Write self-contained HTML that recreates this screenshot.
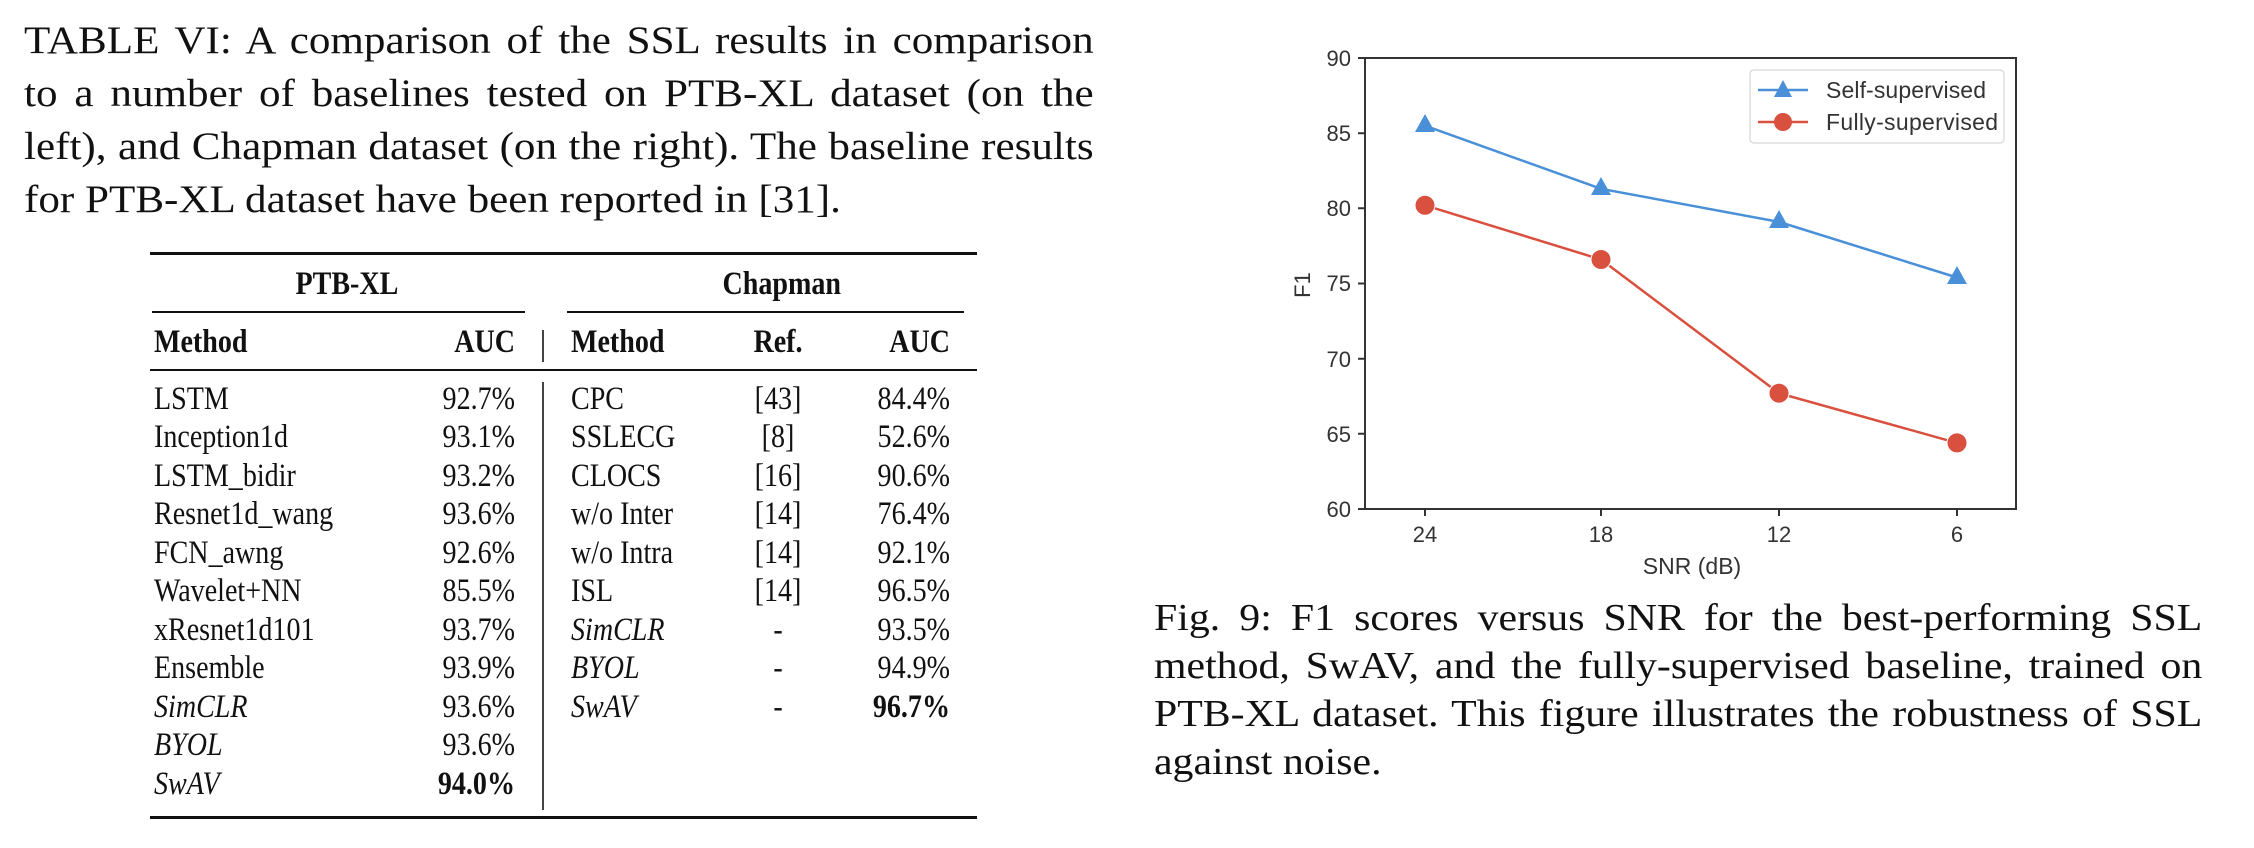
<!DOCTYPE html>
<html><head><meta charset="utf-8"><style>
body{margin:0;width:2254px;height:848px;background:#fff;position:relative;overflow:hidden;font-family:"Liberation Serif",serif;color:#111}
.cap{position:absolute;font-size:39px;line-height:53px;transform-origin:0 0}
.ln{text-align:justify;text-align-last:justify;white-space:nowrap;height:53px}
.ln.last{text-align-last:left}
.t{position:absolute;font-size:33px;white-space:nowrap;line-height:1;transform:scaleX(0.85);transform-origin:0 0}
.r{text-align:right;transform-origin:100% 0}
.c{text-align:center;transform-origin:50% 0}
.rule{position:absolute;background:#111}
</style></head><body>
<div class="cap" style="left:24px;top:14px;width:968px;transform:scaleX(1.105)">
<div class="ln">TABLE VI: A comparison of the SSL results in comparison</div>
<div class="ln">to a number of baselines tested on PTB-XL dataset (on the</div>
<div class="ln">left), and Chapman dataset (on the right). The baseline results</div>
<div class="ln last">for PTB-XL dataset have been reported in [31].</div>
</div>

<div class="rule" style="left:150px;top:252px;width:827px;height:3px"></div>
<div class="rule" style="left:150px;top:369px;width:827px;height:2px"></div>
<div class="rule" style="left:150px;top:816px;width:827px;height:3px"></div>
<div class="rule" style="left:152px;top:311px;width:373px;height:1.5px"></div>
<div class="rule" style="left:567px;top:311px;width:397px;height:1.5px"></div>
<div class="rule" style="left:542px;top:330px;width:1.5px;height:32px;background:#444"></div>
<div class="rule" style="left:542px;top:382px;width:1.5px;height:428px;background:#444"></div>

<div class="t c" style="left:288px;width:100px;top:268px;font-weight:bold">PTB-XL</div>
<div class="t c" style="left:715px;width:100px;top:268px;font-weight:bold">Chapman</div>
<div class="t" style="left:154px;top:326px;font-weight:bold">Method</div>
<div class="t r" style="left:415px;width:100px;top:326px;font-weight:bold">AUC</div>
<div class="t" style="left:571px;top:326px;font-weight:bold">Method</div>
<div class="t c" style="left:728px;width:100px;top:326px;font-weight:bold">Ref.</div>
<div class="t r" style="left:850px;width:100px;top:326px;font-weight:bold">AUC</div>

<svg width="2254" height="848" style="position:absolute;left:0;top:0" font-family="Liberation Sans, sans-serif">
<g stroke="#333" stroke-width="2" fill="none">
<rect x="1365" y="58" width="651" height="451"/>
<path d="M1358 58h7M1358 133.2h7M1358 208.3h7M1358 283.5h7M1358 358.7h7M1358 433.8h7M1358 509h7M1425 509v7M1601 509v7M1779 509v7M1957 509v7"/>
</g>
<g fill="#333" font-size="22" text-anchor="end">
<text x="1351" y="66">90</text><text x="1351" y="141">85</text><text x="1351" y="216">80</text><text x="1351" y="291">75</text><text x="1351" y="367">70</text><text x="1351" y="442">65</text><text x="1351" y="517">60</text>
</g>
<g fill="#333" font-size="22" text-anchor="middle">
<text x="1425" y="542">24</text><text x="1601" y="542">18</text><text x="1779" y="542">12</text><text x="1957" y="542">6</text>
<text x="1692" y="574" font-size="23">SNR (dB)</text>
<text transform="translate(1310,285) rotate(-90)">F1</text>
</g>
<polyline points="1425,125.7 1601,188.8 1779,221.9 1957,277.5" fill="none" stroke="#4a90d9" stroke-width="2.5"/>
<polyline points="1425,205.3 1601,259.5 1779,393.2 1957,442.9" fill="none" stroke="#d9503f" stroke-width="2.5"/>
<g fill="#4a90d9"><path d="M1425 114l10 18h-20zM1601 177l10 18h-20zM1779 210l10 18h-20zM1957 266l10 18h-20z"/></g>
<g fill="#d9503f" stroke="#fff" stroke-width="1"><circle cx="1425" cy="205.3" r="10"/><circle cx="1601" cy="259.5" r="10"/><circle cx="1779" cy="393.2" r="10"/><circle cx="1957" cy="442.9" r="10"/></g>
<rect x="1750" y="70" width="254" height="73" rx="4" fill="#fff" stroke="#ddd" stroke-width="1.5"/>
<line x1="1758" y1="90" x2="1808" y2="90" stroke="#4a90d9" stroke-width="2.5"/>
<path d="M1783 80l9 17h-18z" fill="#4a90d9"/>
<line x1="1758" y1="122" x2="1808" y2="122" stroke="#d9503f" stroke-width="2.5"/>
<circle cx="1783" cy="122" r="9" fill="#d9503f"/>
<g fill="#333" font-size="23"><text x="1826" y="98" textLength="160">Self-supervised</text><text x="1826" y="130" textLength="172">Fully-supervised</text></g>
</svg>

<div class="cap" style="left:1154px;top:594px;width:953px;font-size:38px;line-height:48px;transform:scaleX(1.1)">
<div class="ln" style="height:48px">Fig. 9: F1 scores versus SNR for the best-performing SSL</div>
<div class="ln" style="height:48px">method, SwAV, and the fully-supervised baseline, trained on</div>
<div class="ln" style="height:48px">PTB-XL dataset. This figure illustrates the robustness of SSL</div>
<div class="ln last" style="height:48px">against noise.</div>
</div>

<div style="position:absolute;left:0;top:-4px">
<div class="t" style="left:154px;top:387px">LSTM</div><div class="t r" style="left:415px;width:100px;top:387px">92.7%</div>
<div class="t" style="left:154px;top:425px">Inception1d</div><div class="t r" style="left:415px;width:100px;top:425px">93.1%</div>
<div class="t" style="left:154px;top:464px">LSTM_bidir</div><div class="t r" style="left:415px;width:100px;top:464px">93.2%</div>
<div class="t" style="left:154px;top:502px">Resnet1d_wang</div><div class="t r" style="left:415px;width:100px;top:502px">93.6%</div>
<div class="t" style="left:154px;top:541px">FCN_awng</div><div class="t r" style="left:415px;width:100px;top:541px">92.6%</div>
<div class="t" style="left:154px;top:579px">Wavelet+NN</div><div class="t r" style="left:415px;width:100px;top:579px">85.5%</div>
<div class="t" style="left:154px;top:618px">xResnet1d101</div><div class="t r" style="left:415px;width:100px;top:618px">93.7%</div>
<div class="t" style="left:154px;top:656px">Ensemble</div><div class="t r" style="left:415px;width:100px;top:656px">93.9%</div>
<div class="t" style="left:154px;top:695px;font-style:italic">SimCLR</div><div class="t r" style="left:415px;width:100px;top:695px">93.6%</div>
<div class="t" style="left:154px;top:733px;font-style:italic">BYOL</div><div class="t r" style="left:415px;width:100px;top:733px">93.6%</div>
<div class="t" style="left:154px;top:772px;font-style:italic">SwAV</div><div class="t r" style="left:415px;width:100px;top:772px;font-weight:bold">94.0%</div>

<div class="t" style="left:571px;top:387px">CPC</div><div class="t c" style="left:728px;width:100px;top:387px">[43]</div><div class="t r" style="left:850px;width:100px;top:387px">84.4%</div>
<div class="t" style="left:571px;top:425px">SSLECG</div><div class="t c" style="left:728px;width:100px;top:425px">[8]</div><div class="t r" style="left:850px;width:100px;top:425px">52.6%</div>
<div class="t" style="left:571px;top:464px">CLOCS</div><div class="t c" style="left:728px;width:100px;top:464px">[16]</div><div class="t r" style="left:850px;width:100px;top:464px">90.6%</div>
<div class="t" style="left:571px;top:502px">w/o Inter</div><div class="t c" style="left:728px;width:100px;top:502px">[14]</div><div class="t r" style="left:850px;width:100px;top:502px">76.4%</div>
<div class="t" style="left:571px;top:541px">w/o Intra</div><div class="t c" style="left:728px;width:100px;top:541px">[14]</div><div class="t r" style="left:850px;width:100px;top:541px">92.1%</div>
<div class="t" style="left:571px;top:579px">ISL</div><div class="t c" style="left:728px;width:100px;top:579px">[14]</div><div class="t r" style="left:850px;width:100px;top:579px">96.5%</div>
<div class="t" style="left:571px;top:618px;font-style:italic">SimCLR</div><div class="t c" style="left:728px;width:100px;top:618px">-</div><div class="t r" style="left:850px;width:100px;top:618px">93.5%</div>
<div class="t" style="left:571px;top:656px;font-style:italic">BYOL</div><div class="t c" style="left:728px;width:100px;top:656px">-</div><div class="t r" style="left:850px;width:100px;top:656px">94.9%</div>
<div class="t" style="left:571px;top:695px;font-style:italic">SwAV</div><div class="t c" style="left:728px;width:100px;top:695px">-</div><div class="t r" style="left:850px;width:100px;top:695px;font-weight:bold">96.7%</div>
</div>
</body></html>
